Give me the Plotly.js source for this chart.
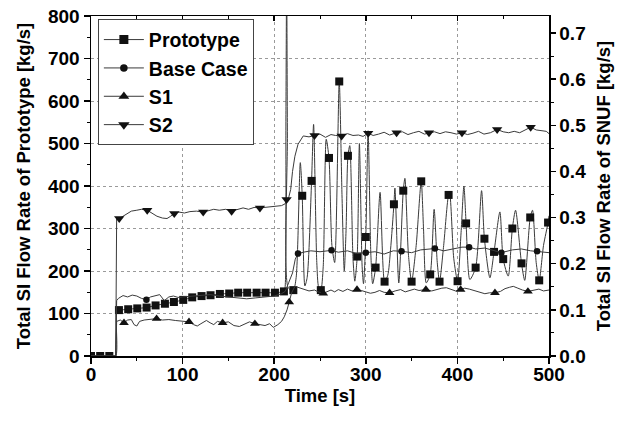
<!DOCTYPE html>
<html>
<head>
<meta charset="utf-8">
<script src="https://cdn.plot.ly/plotly-3.0.1.min.js"></script>
<style>html,body{margin:0;padding:0;background:#fff;}#chart{width:626px;height:428px;}</style>
</head>
<body>
<div id="chart"></div>
<script>
// ---------- data ----------
// Prototype, left axis [kg/s] : continuous line
var protoLineT = [0,10,20,27,28,30.5,40.6,50.5,60.7,70.5,80.7,90.5,100.7,110.5,120.7,130.5,140.7,150.9,160.7,170.5,180.8,190.6,200.8,210.6,211.8,212.8,213.6,214.4,215.4,220.9,224,228.5,230.6,233.5,236,240.8,243,246.5,248.5,250.9,253.5,256.8,259.8,263,266,271,274,276.5,278.5,280.5,282.5,286,288,290.6,293,296,297.5,300,302.5,305.5,307.5,310.7,315.6,320.5,324,327,330.7,331.8,336,340.9,342.7,346.5,350,355,360.5,363,366,370.3,374.6,378,380.5,385,390.4,391.5,396,400.2,404,407.1,409.5,413.6,419.9,426.4,429.5,435.5,440,446.4,450,455.5,460,463.5,470,473.5,479.5,482,486,489.3,494,499,500];
var protoLineV = [0,0,0,0,108,108,110,112,114,119,123,127,132,138,141,143,146,147,149,149,149,149,149,152,160,560,900,520,160,155,185,455,377,165,185,412,545,220,162,155,210,510,466,260,220,646,380,200,300,471,495,230,176,234,500,210,170,280,530,240,170,208,385,175,190,250,357,395,172,389,418,240,175,260,411,300,172,192,345,220,175,260,379,382,230,176,290,400,312,180,208,389,276,184,245,339,228,188,300,343,218,178,326,343,220,178,260,314,330];
var protoMarkT = [0,10,20,30.5,40.6,50.5,60.7,70.5,80.7,90.5,100.7,110.5,120.7,130.5,140.7,150.9,160.7,170.5,180.8,190.6,200.8,210.6,220.9,230.6,240.8,250.9,259.8,271,280.5,290.6,300,310.7,320.5,330.7,340.9,350,360.5,370.3,380.5,390.4,400.2,409.5,419.9,429.5,440,450,460,470,479.5,489.3,499];
var protoMarkV = [0,0,0,108,110,112,114,119,123,127,132,138,141,143,146,147,149,149,149,149,149,152,155,377,412,155,466,646,471,234,280,208,175,357,389,175,411,192,175,379,176,312,208,276,245,228,300,218,326,178,314];

// Base Case, right axis [kg/s]
var baseLineT = [0,27,28,30,35,40,45,50,55,60.5,65,70,75,80,85,90,95,100,110,120,130,140,150,160,170,180,190,200,208,212,216,220,223,226,232,240,250,262.6,270,280,290,300,310,320,330,339,350,360,375.4,385,395,405,412.8,420,430,440,448,460,470,480,487,495,500];
var baseLineV = [0,0,0.12,0.125,0.131,0.128,0.132,0.13,0.125,0.122,0.128,0.13,0.133,0.12,0.128,0.13,0.127,0.128,0.13,0.132,0.133,0.13,0.128,0.125,0.124,0.126,0.128,0.13,0.135,0.14,0.16,0.18,0.21,0.222,0.225,0.228,0.226,0.229,0.225,0.228,0.222,0.224,0.226,0.221,0.228,0.227,0.224,0.23,0.233,0.228,0.232,0.236,0.236,0.232,0.234,0.228,0.224,0.23,0.232,0.228,0.227,0.226,0.224];
var baseMarkT = [60.5,226,262.6,300,339,375.4,412.8,448,487];
var baseMarkV = [0.122,0.222,0.229,0.224,0.227,0.233,0.236,0.224,0.227];

// S1, right axis [kg/s]
var s1LineT = [0,27,28,32,36,40,44,47,50,53,58,65,71.6,78,85,92,100,107,112,116,120,126,130,134,138,143.7,150,156,162,168,173,178.9,185,190,195,199,204,208,211,214,216.4,219,222.6,226,232,238,244,248,253.6,258,262,266,270,275,280,285,290.4,295,300,305,310,315,320,326,332,338,343,348,353,358,365.6,372,378,383,388,393,398,403.5,408,413,418,424,430,435,441,447,452,457,461,466,471,477,483,489,494,500];
var s1LineV = [0,0,0.075,0.078,0.072,0.078,0.079,0.068,0.065,0.075,0.078,0.079,0.081,0.078,0.079,0.077,0.076,0.074,0.068,0.065,0.07,0.077,0.072,0.068,0.075,0.072,0.074,0.066,0.064,0.07,0.074,0.07,0.068,0.066,0.07,0.062,0.068,0.075,0.085,0.1,0.117,0.137,0.151,0.149,0.145,0.141,0.143,0.139,0.136,0.14,0.143,0.139,0.144,0.14,0.145,0.141,0.144,0.142,0.139,0.136,0.138,0.142,0.138,0.137,0.141,0.144,0.139,0.142,0.145,0.142,0.144,0.141,0.145,0.147,0.148,0.144,0.141,0.144,0.147,0.145,0.142,0.138,0.135,0.137,0.137,0.14,0.146,0.149,0.151,0.147,0.143,0.14,0.142,0.145,0.141,0.143];
var s1MarkT = [36,71.6,107,143.7,178.9,216.4,253.6,290.4,326,365.6,403.5,441,477];
var s1MarkV = [0.072,0.081,0.074,0.072,0.07,0.117,0.136,0.144,0.137,0.144,0.144,0.137,0.14];

// S2, right axis [kg/s]
var s2LineT = [0,27,28,30.8,35,40,44,50,55,61.4,66,72,78,83,87,90.9,96,102,108,115,122.5,128,134,140,147,153.5,160,166,172,178,184.4,190,196,202,208,212,213.5,216,218,220,222.6,226,231.7,238,244,250,256,262,267,273.6,280,286,292,297,302.6,308,314,320,326,333.6,340,346,352,358,364,369,375,381,387,393,399,405,411,417,423,429,436,443.4,450,456,462,468,474,480,486,492,497,500];
var s2LineV = [0,0,0.3,0.298,0.303,0.31,0.314,0.316,0.318,0.316,0.31,0.303,0.299,0.298,0.303,0.309,0.312,0.31,0.313,0.314,0.312,0.315,0.318,0.316,0.318,0.314,0.318,0.321,0.318,0.322,0.321,0.322,0.323,0.324,0.326,0.33,0.339,0.345,0.361,0.4,0.433,0.459,0.477,0.475,0.478,0.481,0.474,0.48,0.478,0.477,0.482,0.478,0.479,0.476,0.483,0.478,0.481,0.485,0.479,0.484,0.486,0.48,0.484,0.487,0.481,0.484,0.486,0.482,0.486,0.484,0.481,0.484,0.48,0.483,0.487,0.481,0.484,0.491,0.486,0.484,0.487,0.484,0.49,0.496,0.49,0.488,0.487,0.482];
var s2MarkT = [30.8,61.4,90.9,122.5,153.5,184.4,213.5,244,273.6,302.6,333.6,369,405,443.4,480];
var s2MarkV = [0.298,0.316,0.309,0.312,0.314,0.321,0.339,0.478,0.477,0.483,0.484,0.484,0.484,0.491,0.496];

var seriesNames = ['Prototype','Base Case','S1','S2'];
var xTitle = 'Time [s]';
var yTitle = 'Total SI Flow Rate of Prototype [kg/s]';
var y2Title = 'Total SI Flow Rate of SNUF [kg/s]';

// ---------- styling ----------
var FONT = 'Liberation Sans, Arial, Helvetica, sans-serif';
var LINEC = '#3a3a3a';
var MARKC = '#111';
var symbols = ['square','circle','triangle-up','triangle-down'];
var msizes = [8,6.5,8.5,9];

function lineTrace(x, y, yaxis, shape) {
  return {x:x, y:y, yaxis:yaxis, type:'scatter', mode:'lines', showlegend:false, hoverinfo:'skip',
          line:{color:LINEC, width:1, shape:shape || 'linear', smoothing:0.7}};
}
function markTrace(x, y, yaxis, i) {
  return {x:x, y:y, yaxis:yaxis, type:'scatter', mode:'markers', showlegend:false, hoverinfo:'skip',
          marker:{symbol:symbols[i], size:msizes[i], color:MARKC, line:{width:0}}, cliponaxis:true};
}
function legendTrace(i) {
  return {x:[null], y:[null], xaxis:'x2', type:'scatter', mode:'lines+markers', name:seriesNames[i], showlegend:true,
          line:{color:LINEC, width:1}, marker:{symbol:symbols[i], size:msizes[i]+1, color:MARKC}};
}

var traces = [
  lineTrace(protoLineT, protoLineV, 'y', 'spline'),
  lineTrace(baseLineT, baseLineV, 'y2'),
  lineTrace(s1LineT, s1LineV, 'y2'),
  lineTrace(s2LineT, s2LineV, 'y2'),
  markTrace(protoMarkT, protoMarkV, 'y', 0),
  markTrace(baseMarkT, baseMarkV, 'y2', 1),
  markTrace(s1MarkT, s1MarkV, 'y2', 2),
  markTrace(s2MarkT, s2MarkV, 'y2', 3),
  legendTrace(0), legendTrace(1), legendTrace(2), legendTrace(3)
];

var tickFont = {family:FONT, size:19, color:'#000', weight:'bold'};
var titleFont = {family:FONT, size:18.5, color:'#000', weight:'bold'};

var layout = {
  width:626, height:428,
  margin:{l:91, r:77, t:16, b:72},
  paper_bgcolor:'#fff', plot_bgcolor:'#fff',
  showlegend:true,
  legend:{x:0.015, y:0.99, xanchor:'left', yanchor:'top', bgcolor:'#fff', bordercolor:'#444', borderwidth:1,
          font:{family:FONT, size:19.5, color:'#000', weight:'bold'}, tracegroupgap:0, itemwidth:40},
  xaxis:{range:[0,500], dtick:100, tick0:0, ticks:'outside', ticklen:6, tickwidth:1.5, tickcolor:'#000',
         minor:{dtick:50, ticks:'outside', ticklen:3, tickwidth:1, tickcolor:'#000', showgrid:false},
         showline:true, linewidth:1.5, linecolor:'#000', mirror:true, ticklabelstandoff:-5,
         showgrid:true, gridcolor:'#9a9a9a', griddash:'dot', gridwidth:1, zeroline:false,
         tickfont:tickFont, title:{text:xTitle, font:titleFont, standoff:4}},
  xaxis2:{overlaying:'x', side:'top', anchor:'y', range:[0,500], dtick:100, ticks:'inside', ticklen:5, tickwidth:1.5, tickcolor:'#000',
          minor:{dtick:50, ticks:'inside', ticklen:3, tickwidth:1, tickcolor:'#000', showgrid:false},
          showticklabels:false, showline:false, showgrid:false, zeroline:false},
  yaxis:{range:[0,800], dtick:100, tick0:0, ticks:'outside', ticklen:6, tickwidth:1.5, tickcolor:'#000',
         minor:{dtick:50, ticks:'outside', ticklen:3, tickwidth:1, tickcolor:'#000', showgrid:false},
         showline:true, linewidth:1.5, linecolor:'#000',
         showgrid:true, gridcolor:'#9a9a9a', griddash:'dot', gridwidth:1, zeroline:false,
         tickfont:tickFont, title:{text:yTitle, font:titleFont, standoff:12}},
  yaxis2:{overlaying:'y', side:'right', range:[0,0.737], dtick:0.1, tick0:0, tickformat:'.1f',
          ticks:'outside', ticklen:5, tickwidth:1.5, tickcolor:'#000',
          minor:{dtick:0.05, ticks:'outside', ticklen:3, tickwidth:1, tickcolor:'#000', showgrid:false},
          showline:true, linewidth:1.5, linecolor:'#000', showgrid:false, zeroline:false,
          tickfont:tickFont, title:{text:y2Title, font:titleFont, standoff:12}}
};

Plotly.newPlot('chart', traces, layout, {staticPlot:true, displayModeBar:false});
</script>
</body>
</html>
